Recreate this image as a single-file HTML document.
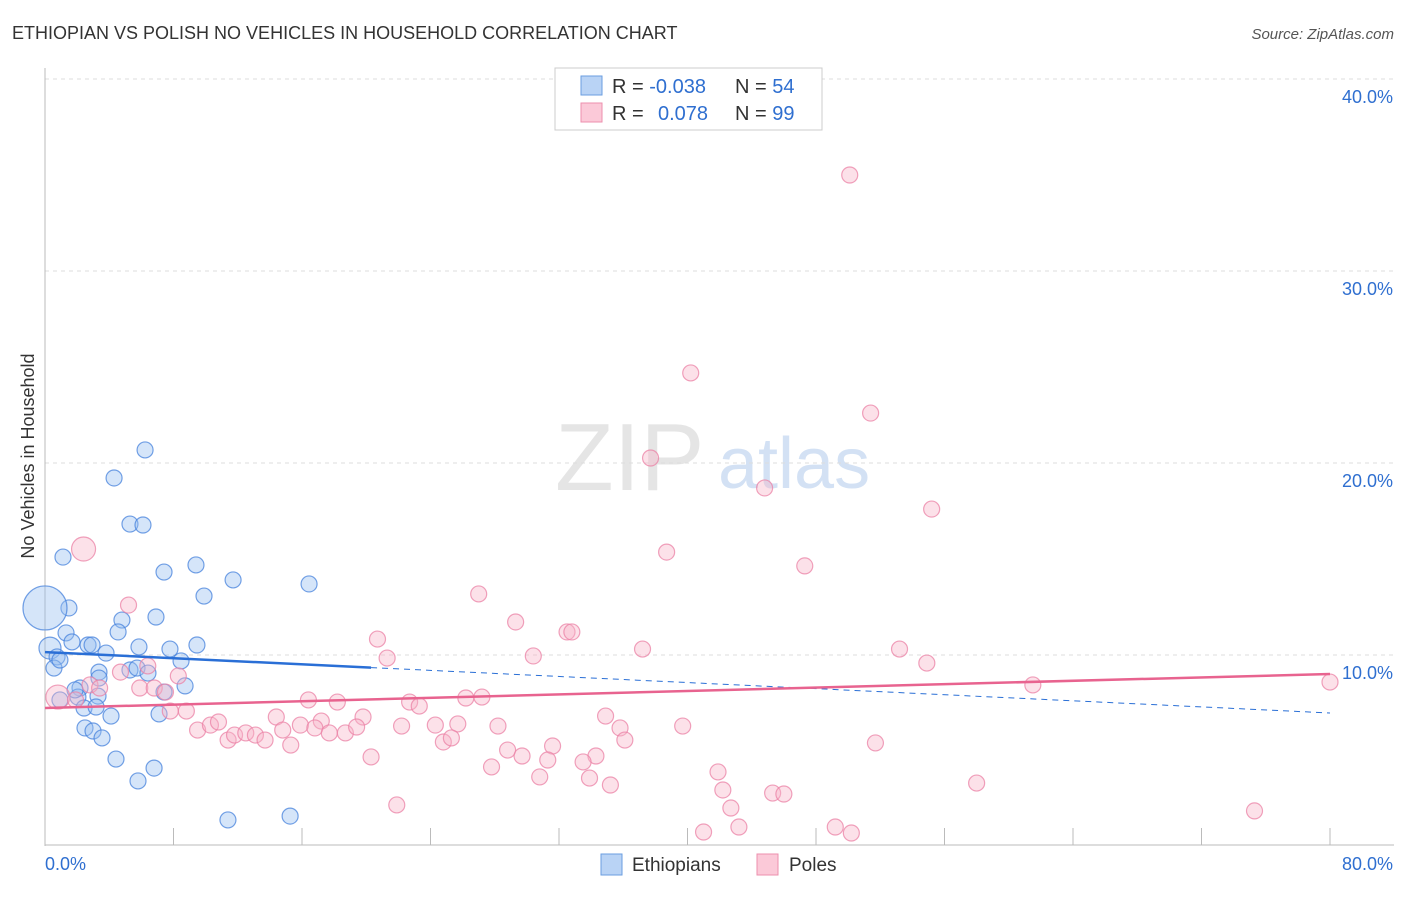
<!DOCTYPE html>
<html><head><meta charset="utf-8"><style>
body{margin:0;background:#fff;font-family:"Liberation Sans",sans-serif;}
svg text{font-family:"Liberation Sans",sans-serif;}
</style></head><body>
<svg id="chart" width="1406" height="892" xmlns="http://www.w3.org/2000/svg">
<text x="12" y="39" font-size="18" fill="#333">ETHIOPIAN VS POLISH NO VEHICLES IN HOUSEHOLD CORRELATION CHART</text>
<text x="1394" y="39" font-size="15" fill="#555" font-style="italic" text-anchor="end">Source: ZipAtlas.com</text>
<text transform="translate(34,456) rotate(-90)" font-size="18" fill="#333" text-anchor="middle">No Vehicles in Household</text>
<g opacity="0.5">
<text x="555" y="490" font-size="96" fill="#ccc" font-family="Liberation Serif">ZIP</text>
<text x="718" y="488" font-size="72" fill="#a9c5ea">atlas</text>
</g>
<g id="grid"></g><g id="axes"></g><g id="pts"></g><g id="trends"></g>
<g>
<rect x="555" y="68" width="267" height="62" fill="#fff" stroke="#ccc"/>
<rect x="581" y="76" width="21" height="19" fill="#b9d3f5" stroke="#6a9ee0"/>
<rect x="581" y="103" width="21" height="19" fill="#fbc9d8" stroke="#ec8fae"/>
<text x="612" y="93" font-size="20" fill="#333">R = <tspan fill="#2f6fd0">-0.038</tspan></text>
<text x="735" y="93" font-size="20" fill="#333">N = <tspan fill="#2f6fd0">54</tspan></text>
<text x="612" y="120" font-size="20" fill="#333">R = <tspan fill="#2f6fd0" x="658">0.078</tspan></text>
<text x="735" y="120" font-size="20" fill="#333">N = <tspan fill="#2f6fd0">99</tspan></text>
</g>
<g>
<rect x="601" y="854" width="21" height="21" fill="#b9d3f5" stroke="#6a9ee0"/>
<text x="632" y="871" font-size="19" fill="#333">Ethiopians</text>
<rect x="757" y="854" width="21" height="21" fill="#fbc9d8" stroke="#ec8fae"/>
<text x="789" y="871" font-size="19" fill="#333">Poles</text>
</g>
<text x="45" y="870" font-size="18" fill="#2f6fd0">0.0%</text>
<text x="1393" y="870" font-size="18" fill="#2f6fd0" text-anchor="end">80.0%</text>
</svg>
<script>
const blueX=[6.23,4.30,5.29,6.10,1.12,7.41,9.40,11.71,16.44,9.90,1.49,6.91,4.79,4.55,1.31,0,0.31,1.68,2.68,2.93,3.80,5.85,7.78,9.46,8.47,0.75,0.56,0.93,3.36,5.29,5.73,6.41,3.36,8.72,7.41,2.18,2.05,3.30,2.43,3.18,4.11,7.10,2.49,2.99,3.55,4.42,6.79,5.79,11.39,15.26,1.87,0.93];
const blueY=[20.68,19.22,16.82,16.77,15.10,14.32,14.69,13.91,13.70,13.07,12.45,11.98,11.82,11.20,11.15,12.45,10.36,10.68,10.52,10.52,10.10,10.42,10.31,10.52,9.69,9.90,9.32,9.74,9.11,9.22,9.32,9.06,8.80,8.39,8.07,8.28,7.81,7.86,7.24,7.29,6.82,6.93,6.20,6.04,5.68,4.58,4.11,3.44,1.41,1.61,8.18,7.66];
const blueR=[8,8,8,8,8,8,8,8,8,8,8,8,8,8,8,22,11,8,8,8,8,8,8,8,8,8,8,8,8,8,8,8,8,8,8,8,8,8,8,8,8,8,8,8,8,8,8,8,8,8,8,8];
const pinkX=[50.1,40.2,51.4,37.7,44.8,55.2,2.4,38.7,47.3,27.0,5.2,29.3,32.5,32.8,20.7,37.2,30.4,21.3,53.2,54.9,61.5,80.0,6.4,4.7,8.3,2.8,3.4,0.8,1.9,5.9,6.8,7.5,8.8,7.8,16.4,18.2,22.7,23.3,26.2,27.2,14.4,17.2,19.8,34.9,39.7,9.5,10.3,10.8,11.4,11.8,12.5,13.1,13.7,14.8,15.3,15.9,16.8,17.7,18.7,19.4,22.2,24.3,25.7,28.2,35.8,36.1,24.8,25.3,31.6,28.8,29.7,31.3,34.3,33.5,20.3,27.8,30.8,33.9,35.2,41.9,42.2,51.7,58.0,21.9,42.7,45.3,46.0,43.2,41.0,49.2,50.2,75.3];
const pinkY=[35.0,24.69,22.60,20.26,18.70,17.60,15.52,15.36,14.64,13.18,12.60,11.72,11.20,11.20,10.83,10.31,9.95,9.84,10.31,9.58,8.44,8.59,9.43,9.11,8.91,8.44,8.28,7.81,7.66,8.28,8.28,8.07,7.08,7.08,7.66,7.55,7.55,7.34,7.76,7.81,6.77,6.56,6.77,6.82,6.30,6.09,6.35,6.51,5.57,5.83,5.94,5.83,5.57,6.09,5.31,6.35,6.20,5.94,5.94,6.25,6.30,6.35,6.41,6.30,6.20,5.57,5.47,5.68,5.26,5.05,4.74,4.53,4.74,4.43,4.69,4.17,3.65,3.59,3.23,3.91,2.97,5.42,3.33,2.19,2.03,2.81,2.76,1.04,0.78,1.04,0.73,1.88];
const pinkBig=[6,27];
const yTicks=[10,20,30,40];
const yTickLabels=["10.0%","20.0%","30.0%","40.0%"];
const xTicks=[0,8,16,24,32,40,48,56,64,72,80];
const blueTrend=[10.15,6.98];
const pinkTrend=[7.24,9.01];
const blueSolidEnd=20.3;

const NS="http://www.w3.org/2000/svg";
const X=v=>45+v*1285/80;
const Y=v=>847-v*19.2;
function mk(tag,attrs,parent){const e=document.createElementNS(NS,tag);for(const k in attrs)e.setAttribute(k,attrs[k]);parent.appendChild(e);return e;}
const grid=document.getElementById('grid'),axes=document.getElementById('axes'),pts=document.getElementById('pts'),tr=document.getElementById('trends');
yTicks.forEach((t,i)=>{
 const l=mk('line',{x1:45,x2:1394,y1:Y(t),y2:Y(t),stroke:'#ddd','stroke-dasharray':'4,4'},grid);
 
 
 const tx=mk('text',{x:1393,y:Y(t)+24,'font-size':18,fill:'#2f6fd0','text-anchor':'end'},grid);
 tx.textContent=yTickLabels[i];
 
 
});
const ya=mk('line',{x1:45,x2:45,y1:68,y2:846,stroke:'#bbb'},axes);


const xa=mk('line',{x1:45,x2:1394,y1:845,y2:845,stroke:'#bbb'},axes);


xTicks.forEach(t=>{
 const l=mk('line',{x1:X(t),x2:X(t),y1:828,y2:845,stroke:'#bbb'},axes);
 
 
});
blueX.forEach((v,i)=>{
 const c=mk('circle',{cx:X(v),cy:Y(blueY[i]),r:blueR[i],fill:'rgba(150,190,240,0.4)',stroke:'rgba(70,130,220,0.75)','stroke-width':1.2},pts);
 
 
});
pinkX.forEach((v,i)=>{
 const c=mk('circle',{cx:X(v),cy:Y(pinkY[i]),r:pinkBig.includes(i)?12:8,fill:'rgba(248,180,200,0.4)',stroke:'rgba(235,130,165,0.75)','stroke-width':1.2},pts);
 
 
});
const bY=x=>blueTrend[0]+(blueTrend[1]-blueTrend[0])*x/80;
const b1=mk('line',{x1:X(0),y1:Y(bY(0)),x2:X(blueSolidEnd),y2:Y(bY(blueSolidEnd)),stroke:'#2a6fd6','stroke-width':2.5},tr);


const b2=mk('line',{x1:X(blueSolidEnd),y1:Y(bY(blueSolidEnd)),x2:X(80),y2:Y(bY(80)),stroke:'#2a6fd6','stroke-width':1,'stroke-dasharray':'6,5'},tr);


const p1=mk('line',{x1:X(0),y1:Y(pinkTrend[0]),x2:X(80),y2:Y(pinkTrend[1]),stroke:'#e8638f','stroke-width':2.5},tr);


</script>
</body></html>
